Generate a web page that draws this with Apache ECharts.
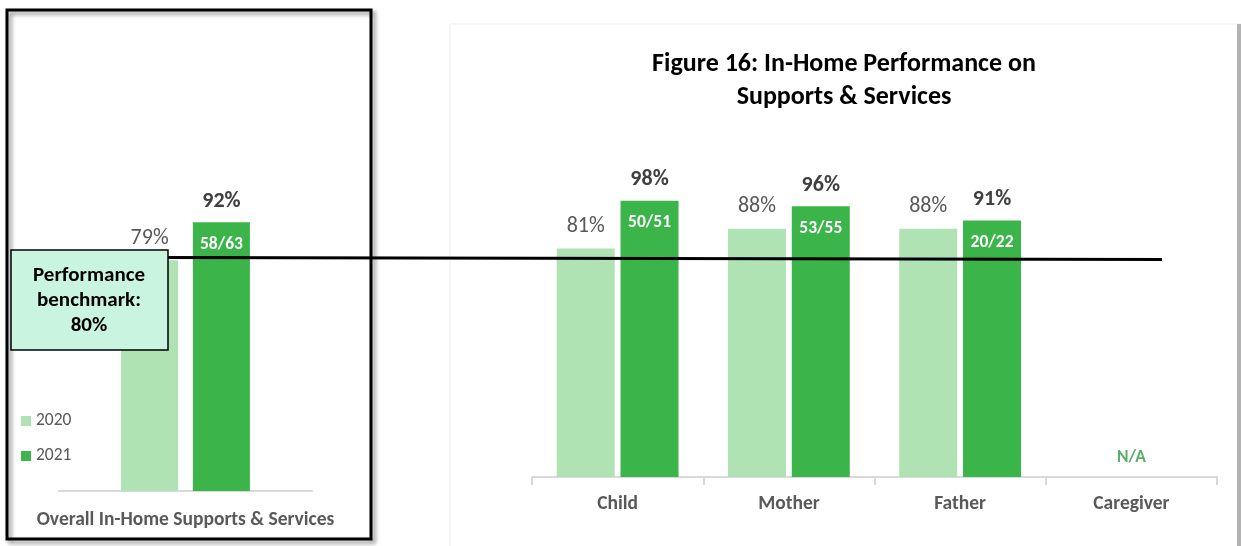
<!DOCTYPE html>
<html>
<head>
<meta charset="utf-8">
<script src="https://cdn.jsdelivr.net/npm/echarts@6/dist/echarts.min.js"></script>
<style>
html,body{margin:0;padding:0;background:#fff;}
#chart{width:1241px;height:546px;}
</style>
</head>
<body>
<div id="chart"></div>
<script>
// ---- data ----
var overallCategories = ['Overall In-Home Supports & Services'];
var overall2020 = [79];
var overall2021 = [92];
var overallCounts2021 = ['58/63'];

var categories = ['Child', 'Mother', 'Father', 'Caregiver'];
var values2020 = [81, 88, 88, null];
var values2021 = [98, 96, 91, null];
var counts2021 = ['50/51', '53/55', '20/22', ''];
var naValues = [null, null, null, 0];

var benchmark = 80;
var seriesNames = ['2020', '2021'];
var titleText = 'Figure 16: In-Home Performance on\nSupports & Services';
var benchmarkText = 'Performance\nbenchmark:\n' + benchmark + '%';

var FONT = 'Carlito, Calibri, Lato, "Open Sans", sans-serif';
var C2020 = '#b0e3b4';
var C2021 = '#3bb44a';

var chart = echarts.init(document.getElementById('chart'), null, {renderer: 'canvas'});

function lbl2021(counts, vals) {
  return {
    show: true,
    position: ['50%', 0],
    align: 'center',
    verticalAlign: 'middle',
    formatter: function (p) {
      return '{p|' + vals[p.dataIndex] + '%}\n{c|' + counts[p.dataIndex] + '}';
    },
    rich: {
      p: {fontFamily: FONT, fontWeight: 'bold', fontSize: 22, color: '#404040', lineHeight: 44, align: 'center'},
      c: {fontFamily: FONT, fontWeight: 'bold', fontSize: 17.5, color: '#ffffff', lineHeight: 42, align: 'center'}
    }
  };
}
var lbl2020 = {
  show: true, position: 'top', distance: 11,
  fontFamily: FONT, fontSize: 22, color: '#595959',
  formatter: function (p) { return p.value + '%'; }
};

var option = {
  animation: false,
  textStyle: {fontFamily: FONT},
  legend: {
    data: seriesNames,
    orient: 'vertical',
    left: 16, top: 407,
    itemWidth: 10, itemHeight: 10, itemGap: 17,
    icon: 'rect',
    textStyle: {fontFamily: FONT, fontSize: 17.5, color: '#595959'}
  },
  grid: [
    {left: 59, width: 253, top: 199, height: 292},
    {left: 532, width: 685, top: 195, height: 282}
  ],
  xAxis: [
    {
      type: 'category', gridIndex: 0, data: overallCategories,
      axisLine: {lineStyle: {color: '#d9d9d9', width: 2}},
      axisTick: {show: false},
      axisLabel: {fontFamily: FONT, fontWeight: 'bold', fontSize: 19.5, color: '#595959', margin: 19}
    },
    {
      type: 'category', gridIndex: 1, data: categories,
      axisLine: {lineStyle: {color: '#d9d9d9', width: 2}},
      axisTick: {show: true, length: 8, lineStyle: {color: '#d9d9d9', width: 2}},
      axisLabel: {fontFamily: FONT, fontWeight: 'bold', fontSize: 19.5, color: '#595959', margin: 17}
    }
  ],
  yAxis: [
    {type: 'value', gridIndex: 0, min: 0, max: 100, show: false},
    {type: 'value', gridIndex: 1, min: 0, max: 100, show: false}
  ],
  series: [
    {
      name: '2020', type: 'bar', xAxisIndex: 0, yAxisIndex: 0,
      data: overall2020, barWidth: 57, barGap: '26%',
      itemStyle: {color: C2020}, label: lbl2020
    },
    {
      name: '2021', type: 'bar', xAxisIndex: 0, yAxisIndex: 0,
      data: overall2021, barWidth: 57, barGap: '26%',
      itemStyle: {color: C2021}, label: lbl2021(overallCounts2021, overall2021)
    },
    {
      name: '2020', type: 'bar', xAxisIndex: 1, yAxisIndex: 1,
      data: values2020, barWidth: 58, barGap: '10%',
      itemStyle: {color: C2020}, label: lbl2020
    },
    {
      name: '2021', type: 'bar', xAxisIndex: 1, yAxisIndex: 1,
      data: values2021, barWidth: 58, barGap: '10%',
      itemStyle: {color: C2021}, label: lbl2021(counts2021, values2021)
    },
    {
      name: 'N/A', type: 'scatter', xAxisIndex: 1, yAxisIndex: 1,
      data: naValues, symbolSize: 0, silent: true,
      label: {show: true, position: 'top', distance: 10, formatter: 'N/A',
        fontFamily: FONT, fontWeight: 'bold', fontSize: 17.5, color: '#2e9a44'}
    }
  ]
};
chart.setOption(option);

var by = chart.convertToPixel({yAxisIndex: 0}, benchmark);
chart.setOption({
  graphic: [
    // right card
    {type: 'rect', z: 0, shape: {x: 450, y: 24, width: 800, height: 540},
      style: {fill: '#ffffff', stroke: '#efefef', lineWidth: 1}},
    {type: 'rect', z: 0, shape: {x: 1237, y: 24, width: 4, height: 530},
      style: {fill: '#b3b3b3'}},
    // title
    {type: 'text', z: 10, x: 844, y: 48,
      style: {text: titleText, fontFamily: FONT, fontWeight: 'bold', fontSize: 26,
        lineHeight: 33, fill: '#000000', align: 'center', verticalAlign: 'top'}},
    // left box
    {type: 'rect', z: 20, shape: {x: 7, y: 10, width: 364, height: 529},
      style: {fill: null, stroke: '#000', lineWidth: 3,
        shadowBlur: 4, shadowOffsetX: 3, shadowOffsetY: 3, shadowColor: 'rgba(0,0,0,0.45)'}},
    // benchmark line
    {type: 'line', z: 30, shape: {x1: 160, y1: by, x2: 1162, y2: by + 2},
      style: {stroke: '#000', lineWidth: 3}},
    // benchmark box
    {type: 'rect', z: 40, shape: {x: 11, y: 250, width: 157, height: 100},
      style: {fill: '#c9f5e0', stroke: '#000', lineWidth: 1.5}},
    {type: 'text', z: 41, x: 89, y: 301,
      style: {text: benchmarkText, fontFamily: FONT, fontWeight: 'bold', fontSize: 21,
        lineHeight: 25, fill: '#000', align: 'center', verticalAlign: 'middle'}}
  ]
});
</script>
</body>
</html>
